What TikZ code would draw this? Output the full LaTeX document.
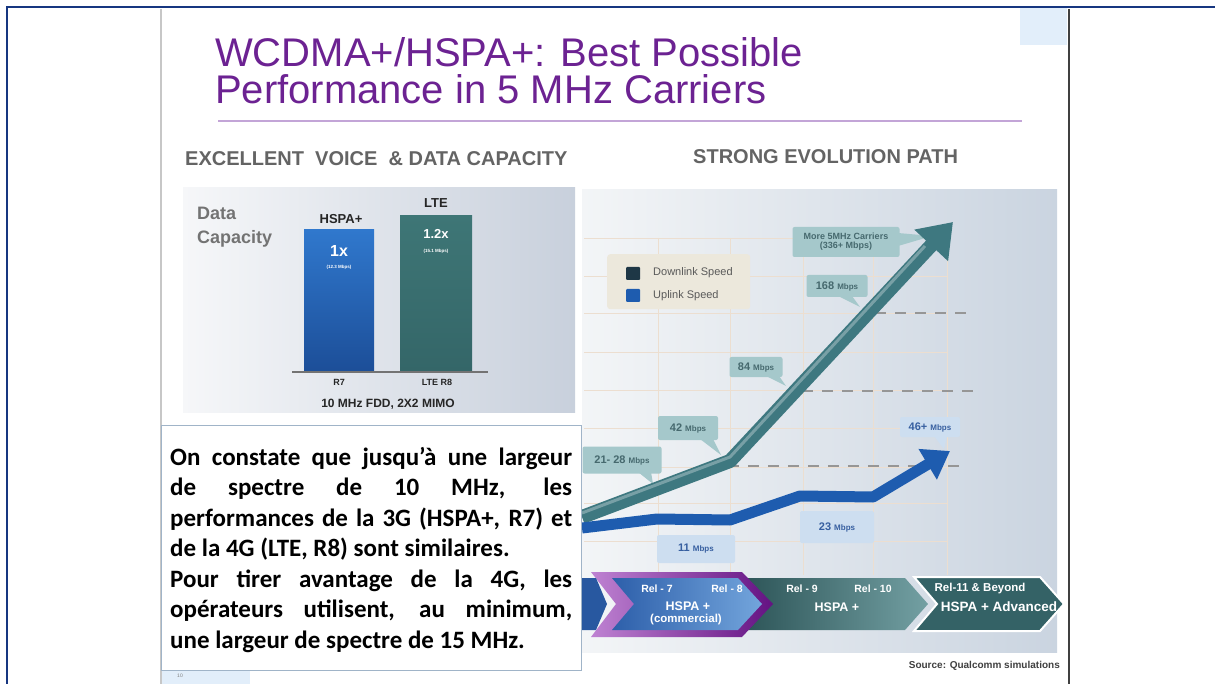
\documentclass[tikz,border=0pt]{standalone}
\usepackage{fontspec}
\setmainfont{Liberation Sans}
\newfontfamily\carlito{Carlito}
\usetikzlibrary{arrows.meta}
\newcommand\myfs[1]{\fontsize{#1}{#1}\selectfont}
\newcommand\jline[1]{\hbox to 402pt{\spaceskip=0.25em plus 1fil minus 0.05em #1}}
\definecolor{navy}{RGB}{22,54,128}
\definecolor{ttl}{RGB}{108,34,146}
\definecolor{ttlrule}{RGB}{195,165,215}
\definecolor{hdr}{RGB}{100,100,100}
\definecolor{hspaTop}{RGB}{48,120,205}
\definecolor{hspaBot}{RGB}{28,78,152}
\definecolor{lteTop}{RGB}{62,118,118}
\definecolor{lteBot}{RGB}{52,102,104}
\definecolor{dlc}{RGB}{62,120,128}
\definecolor{ulc}{RGB}{30,92,175}
\definecolor{calteal}{RGB}{165,200,203}
\definecolor{caltext}{RGB}{70,105,110}
\definecolor{calblue}{RGB}{205,222,240}
\definecolor{calbtxt}{RGB}{55,95,160}
\definecolor{gridc}{RGB}{236,222,208}
\definecolor{legbg}{RGB}{236,232,220}
\definecolor{paleblue}{RGB}{226,238,250}
\definecolor{boxborder}{RGB}{160,180,200}
\definecolor{dashc}{RGB}{150,150,150}
\definecolor{lpL}{RGB}{246,247,249}
\definecolor{lpR}{RGB}{200,208,220}
\definecolor{rpL}{RGB}{243,245,247}
\definecolor{rpR}{RGB}{202,212,224}
\definecolor{midL}{RGB}{45,85,88}
\definecolor{midR}{RGB}{115,160,163}
\definecolor{rgtC}{RGB}{52,98,102}
\definecolor{purL}{RGB}{190,130,210}
\definecolor{purR}{RGB}{100,18,130}
\definecolor{inL}{RGB}{45,95,170}
\definecolor{inR}{RGB}{115,165,220}
\definecolor{stubC}{RGB}{40,88,160}
\definecolor{legdk}{RGB}{30,55,70}
\begin{document}
\begin{tikzpicture}[x=1pt,y=-1pt,
  callT/.style={fill=calteal, rounded corners=2pt, text=caltext, inner sep=1pt, align=center},
  callB/.style={fill=calblue, rounded corners=2pt, text=calbtxt, inner sep=1pt, align=center},
  gridline/.style={draw=gridc, line width=0.9pt},
  dashline/.style={draw=dashc, line width=2.5pt, dash pattern=on 11pt off 9pt},
  bandtxt/.style={text=white}]
\useasboundingbox (0,0) rectangle (1215,684);
\fill[white] (0,0) rectangle (1215,684);
% outer frame
\draw[navy, line width=2.5pt] (1215,7) -- (7,7) -- (7,684);
% slide edges
\fill[paleblue] (1020,8) rectangle (1067,45);
\fill[paleblue] (162,671) rectangle (250,684);
\draw[black!22, line width=2.5pt] (161,9) -- (161,684);
\draw[black!75, line width=2.5pt] (1069,9) -- (1069,684);
% title
\node[anchor=base west, inner sep=0, text=ttl] (t1) at (215,67) {\myfs{40}WCDMA+/HSPA+: Best Possible};
\node[anchor=base west, inner sep=0, text=ttl] (t2) at (215,104) {\myfs{40}Performance in 5 MHz Carriers};
\draw[ttlrule, line width=1.5pt] (218,121) -- (1022,121);
% headers
\node[anchor=base west, inner sep=0, text=hdr] (h1) at (185,166) {\myfs{20}\bfseries EXCELLENT\ \ VOICE\ \ \& DATA CAPACITY};
\node[anchor=base west, inner sep=0, text=hdr] (h2) at (693,164) {\myfs{20}\bfseries STRONG EVOLUTION PATH};
% left panel
\shade[left color=lpL, right color=lpR] (183,188) rectangle (575,412);
\node[anchor=base west, inner sep=0, text=black!55] (dc1) at (197,220) {\myfs{18}\bfseries Data};
\node[anchor=base west, inner sep=0, text=black!55] (dc2) at (197,244) {\myfs{18}\bfseries Capacity};
\node[anchor=south west, inner sep=0, minimum width=70pt, minimum height=142pt, top color=hspaTop, bottom color=hspaBot] (bhspa) at (304,372) {};
\node[anchor=south west, inner sep=0, minimum width=72pt, minimum height=156pt, top color=lteTop, bottom color=lteBot] (blte) at (400,372) {};
\draw[black!55, line width=1.2pt] (292,372) -- (488,372);
\node[font=\bfseries\myfs{13}, text=black!85] (lh) at (341,219) {HSPA+};
\node[font=\bfseries\myfs{13}, text=black!85] (ll) at (436,203) {LTE};
\node[font=\bfseries\myfs{16}, text=white] (v1) at (339,251) {1x};
\node[font=\bfseries\myfs{4.5}, text=white!85] (v1s) at (339,267) {(12.3 Mbps)};
\node[font=\bfseries\myfs{13}, text=white] (v2) at (436,234) {1.2x};
\node[font=\bfseries\myfs{4.5}, text=white!85] (v2s) at (436,251) {(15.1 Mbps)};
\node[font=\bfseries\myfs{9}, text=black!85] (r7) at (339,382) {R7};
\node[font=\bfseries\myfs{9}, text=black!85] (r8) at (437,382) {LTE R8};
\node[font=\bfseries\myfs{12}, text=black!85] (fdd) at (388,404) {10 MHz FDD, 2X2 MIMO};
% right panel
\shade[left color=rpL, right color=rpR] (582,190) rectangle (1057,652);
\foreach \x in {658,730,803,873,947} \draw[gridline] (\x,238) -- (\x,575);
\foreach \y in {238,276,313,352,390,428,467,503,541} \draw[gridline] (584,\y) -- (947,\y);
% legend
\node[fill=legbg, rounded corners=3pt, minimum width=143pt, minimum height=55pt, anchor=north west, inner sep=0] (leg) at (607,254) {};
\fill[legdk, rounded corners=1pt] (626,267) rectangle (640,280);
\fill[ulc, rounded corners=1pt] (626,289) rectangle (640,302);
\node[anchor=west, inner sep=0, font=\myfs{11}, text=black!65] (legd) at (653,273) {Downlink Speed};
\node[anchor=west, inner sep=0, font=\myfs{11}, text=black!65] (legu) at (653,296) {Uplink Speed};
% dashed levels
\draw[dashline] (875,313) -- (972,313);
\draw[dashline] (802,391) -- (975,391);
\draw[dashline] (728,466) -- (960,466);
% callouts
\node[callT, minimum width=107pt, minimum height=30pt, font=\bfseries\myfs{9}] (cMore) at (846,242) {More 5MHz Carriers\\(336+ Mbps)};
\fill[calteal] (898,233) -- (932,236) -- (898,246) -- cycle;
\node[callT, minimum width=61pt, minimum height=22pt] (c168) at (837,286) {\bfseries\myfs{11}168 {\myfs{8}Mbps}};
\fill[calteal] (838,296) -- (860,307) -- (852,296) -- cycle;
\node[callT, minimum width=53pt, minimum height=20pt] (c84) at (756,367) {\bfseries\myfs{11}84 {\myfs{8}Mbps}};
\fill[calteal] (766,376) -- (786,386) -- (779,376) -- cycle;
\node[callT, minimum width=60pt, minimum height=24pt] (c42) at (688,428) {\bfseries\myfs{11}42 {\myfs{8}Mbps}};
\fill[calteal] (700,439) -- (721,455) -- (713,439) -- cycle;
\node[callT, minimum width=79pt, minimum height=27pt] (c21) at (622,460) {\bfseries\myfs{11}21- 28 {\myfs{8}Mbps}};
\fill[calteal] (638,472) -- (653,484) -- (651,472) -- cycle;
\node[callB, minimum width=60pt, minimum height=20pt] (c46) at (930,427) {\bfseries\myfs{11}46+ {\myfs{8}Mbps}};
\fill[calblue] (934,436) -- (944,449) -- (947,436) -- cycle;
\node[callB, minimum width=74pt, minimum height=32pt] (c23) at (837,527) {\bfseries\myfs{11}23 {\myfs{8}Mbps}};
\node[callB, minimum width=78pt, minimum height=28pt] (c11) at (696,549) {\bfseries\myfs{11}11 {\myfs{8}Mbps}};
% arrows
\coordinate (d0) at (582,517);
\coordinate (d1) at (730,461);
\coordinate (d2) at (953,222);
\draw[dlc, line width=14pt, line join=round, -{Triangle[length=32pt,width=44pt]}] (d0) -- (d1) -- (d2);
\draw[white!30!dlc, line width=3pt, line join=round] ([yshift=4pt]d0) -- ([yshift=4pt]d1) -- (925,246);
\coordinate (u0) at (582,528);
\coordinate (u1) at (657,519);
\coordinate (u2) at (730,520);
\coordinate (u3) at (800,496);
\coordinate (u4) at (873,497);
\coordinate (u5) at (950,451);
\draw[ulc, line width=11pt, line join=round, -{Triangle[length=26pt,width=34pt]}] (u0) -- (u1) -- (u2) -- (u3) -- (u4) -- (u5);
% release band
\shade[left color=midL, right color=midR] (745,578) -- (905,578) -- (928,604) -- (905,630) -- (745,630) -- cycle;
\filldraw[fill=rgtC, draw=white, line width=2pt] (914,577) -- (1040,577) -- (1064,604) -- (1040,631) -- (914,631) -- (937,604) -- cycle;
\shade[left color=purL, right color=purR] (591,572) -- (742,572) -- (773,604) -- (742,637) -- (591,637) -- (616,604) -- cycle;
\shade[left color=inL, right color=inR] (612,578) -- (738,578) -- (762,604) -- (738,630) -- (612,630) -- (634,604) -- cycle;
\fill[stubC] (582,578) -- (596,578) -- (607,604) -- (596,630) -- (582,630) -- cycle;
\node[bandtxt, font=\bfseries\myfs{10.5}] (rel7) at (657,589) {Rel - 7};
\node[bandtxt, font=\bfseries\myfs{10.5}] (rel8) at (727,589) {Rel - 8};
\node[bandtxt, font=\bfseries\myfs{12.5}] (hs1) at (688,606) {HSPA +};
\node[bandtxt, font=\bfseries\myfs{11.5}] (com) at (686,620) {(commercial)};
\node[bandtxt, font=\bfseries\myfs{10.5}] (rel9) at (802,589) {Rel - 9};
\node[bandtxt, font=\bfseries\myfs{10.5}] (rel10) at (873,589) {Rel - 10};
\node[bandtxt, font=\bfseries\myfs{12.5}] (hs2) at (837,607) {HSPA +};
\node[bandtxt, font=\bfseries\myfs{11.5}] (rel11) at (980,589) {Rel-11 \& Beyond};
\node[bandtxt, font=\bfseries\myfs{13.5}] (hs3) at (999,607) {HSPA + Advanced};
\node[anchor=east, inner sep=0, font=\bfseries\myfs{10}, text=black!75] (src) at (1060,666) {Source: Qualcomm simulations};
% text box
\node[draw=boxborder, fill=white, line width=1pt, anchor=north west, minimum width=420pt, minimum height=245pt, inner sep=0] (tbox) at (161,425) {};
\node[anchor=base west, inner sep=0] (txt) at (170,465) {\carlito\bfseries\myfs{25}\vtop{\baselineskip=30.5pt \lineskiplimit=-20pt
\jline{On constate que jusqu’à une largeur}
\jline{de spectre de 10 MHz, les}
\jline{performances de la 3G (HSPA+, R7) et}
\hbox{de la 4G (LTE, R8) sont similaires.}
\jline{Pour tirer avantage de la 4G, les}
\jline{opérateurs utilisent, au minimum,}
\hbox{une largeur de spectre de 15 MHz.}}};
\node[font=\myfs{5}, text=black!50] (pg) at (180,676) {10};
\end{tikzpicture}
\end{document}
